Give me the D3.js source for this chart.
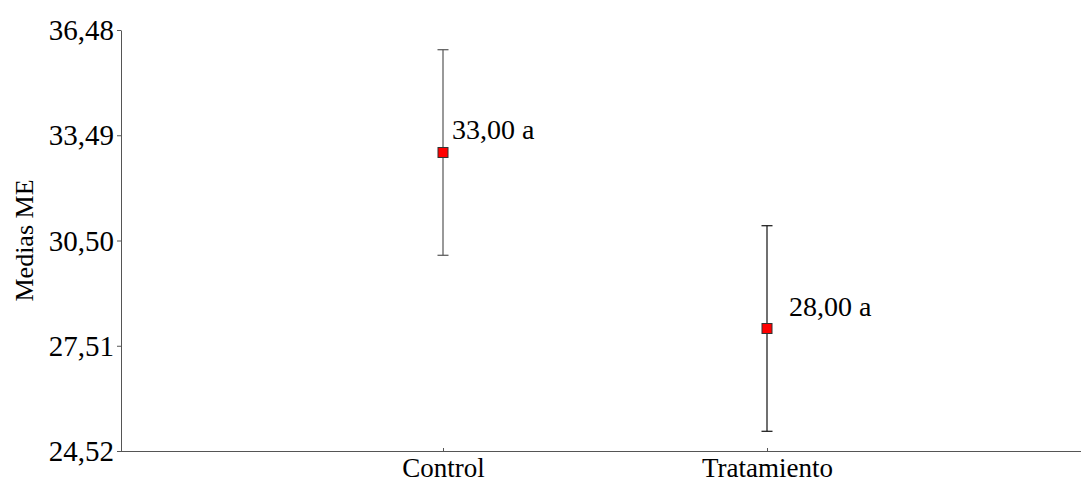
<!DOCTYPE html>
<html>
<head>
<meta charset="utf-8">
<script src="https://cdn.jsdelivr.net/npm/d3@7"></script>
<style>
  body { margin: 0; background: #fff; }
</style>
</head>
<body>
<div id="chart"></div>
<script>
// data
var categories = ["Control", "Tratamiento"];
var means = [33.00, 28.00];
var lower = [30.08, 25.08];
var upper = [35.92, 30.92];
var pointLabels = ["33,00 a", "28,00 a"];
var yTicks = [24.52, 27.51, 30.50, 33.49, 36.48];

var width = 1081, height = 482;
var plotLeft = 121, plotTop = 30, plotBottom = 451;
var serif = "'Liberation Serif'";

var svg = d3.select("#chart").append("svg")
  .attr("width", width)
  .attr("height", height)
  .style("font-family", serif);

var x = d3.scalePoint()
  .domain(categories)
  .range([119, 1091])
  .padding(1);

var y = d3.scaleLinear()
  .domain([24.52, 36.48])
  .range([plotBottom, plotTop]);

var fmt = function (v) { return d3.format(".2f")(v).replace(".", ","); };

// y axis
var yAxis = svg.append("g")
  .attr("transform", "translate(" + plotLeft + ",0)")
  .call(d3.axisLeft(y).tickValues(yTicks).tickFormat(fmt).tickSize(4).tickSizeOuter(0))
  .attr("font-family", null);
yAxis.select(".domain").attr("stroke", "#555");
yAxis.selectAll(".tick line").attr("stroke", "#555");
yAxis.selectAll(".tick text")
  .attr("x", -7)
  .attr("dy", "0.33em")
  .attr("fill", "#000")
  .style("font-family", serif)
  .style("font-size", "29px");

// x axis
var xAxis = svg.append("g")
  .attr("transform", "translate(0," + plotBottom + ")")
  .call(d3.axisBottom(x).tickSize(-3).tickSizeOuter(0))
  .attr("font-family", null);
xAxis.select(".domain").attr("d", "M" + plotLeft + ",0.5H" + width).attr("stroke", "#555");
xAxis.selectAll(".tick line").attr("stroke", "#555");
xAxis.selectAll(".tick text")
  .attr("y", 26)
  .attr("dy", 0)
  .attr("fill", "#000")
  .style("font-family", serif)
  .style("font-size", "27px");

// y title
svg.append("text")
  .attr("transform", "translate(33," + (plotTop + plotBottom) / 2 + ") rotate(-90)")
  .attr("text-anchor", "middle")
  .style("font-family", serif)
  .style("font-size", "26px")
  .text("Medias ME");

var rows = categories.map(function (c, i) {
  return { cat: c, mean: means[i], lo: lower[i], hi: upper[i], label: pointLabels[i] };
});

var g = svg.append("g");
var barColors = ["#555", "#111"];

g.selectAll("line.err")
  .data(rows).enter().append("line")
  .attr("class", "err")
  .attr("x1", function (d) { return x(d.cat); })
  .attr("x2", function (d) { return x(d.cat); })
  .attr("y1", function (d) { return y(d.lo); })
  .attr("y2", function (d) { return y(d.hi); })
  .attr("stroke", function (d, i) { return barColors[i]; })
  .attr("stroke-width", 1.2);

["lo", "hi"].forEach(function (k) {
  g.selectAll("line.cap-" + k)
    .data(rows).enter().append("line")
    .attr("class", "cap-" + k)
    .attr("x1", function (d) { return x(d.cat) - 5.5; })
    .attr("x2", function (d) { return x(d.cat) + 5.5; })
    .attr("y1", function (d) { return y(d[k]); })
    .attr("y2", function (d) { return y(d[k]); })
    .attr("stroke", function (d, i) { return barColors[i]; })
    .attr("stroke-width", 1.2);
});

g.selectAll("rect.pt")
  .data(rows).enter().append("rect")
  .attr("class", "pt")
  .attr("x", function (d) { return x(d.cat) - 5; })
  .attr("y", function (d) { return y(d.mean) - 5; })
  .attr("width", 10)
  .attr("height", 10)
  .attr("fill", "#ff0000")
  .attr("stroke", "#333")
  .attr("stroke-width", 1);

var labelOffsets = [9, 22];
g.selectAll("text.lbl")
  .data(rows).enter().append("text")
  .attr("class", "lbl")
  .attr("x", function (d, i) { return x(d.cat) + labelOffsets[i]; })
  .attr("y", function (d) { return y(d.mean) - 13; })
  .style("font-family", serif)
  .style("font-size", "28px")
  .text(function (d) { return d.label; });
</script>
</body>
</html>
